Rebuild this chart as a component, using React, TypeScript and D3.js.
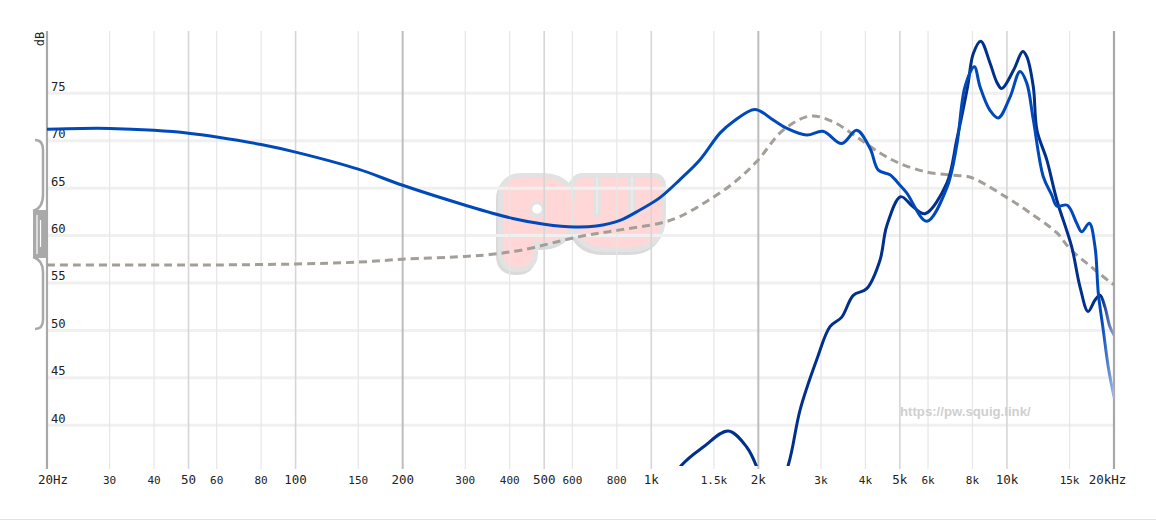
import React from 'react';
import * as d3 from 'd3';

// ---------- data ----------
const FREQ_TICKS = [20, 30, 40, 50, 60, 80, 100, 150, 200, 300, 400, 500, 600, 800, 1000, 1500, 2000, 3000, 4000, 5000, 6000, 8000, 10000, 15000, 20000];
const FREQ_LABELS = ['20Hz', '30', '40', '50', '60', '80', '100', '150', '200', '300', '400', '500', '600', '800', '1k', '1.5k', '2k', '3k', '4k', '5k', '6k', '8k', '10k', '15k', '20kHz'];
const BIG_TICKS = [20, 50, 100, 200, 500, 1000, 2000, 5000, 10000, 20000];
const DARK_TICKS = [200, 2000];
const DB_TICKS = [40, 45, 50, 55, 60, 65, 70, 75];

const MID_FREQ = [20, 25, 30, 40, 50, 60, 80, 100, 150, 200, 300, 408, 500, 610, 700, 817, 929, 1058, 1204, 1371, 1560, 1698, 1957, 2199, 2408, 2736, 3040, 3432, 3780, 4121, 4349, 4691, 5004, 5226, 5948, 6772, 7226, 7622, 8097, 8400, 8962, 9458, 10202, 10882, 11364, 11862, 12656, 13358, 13824, 14782, 15709, 16226, 17046, 17688, 18070, 18666, 19268, 20000];
const MID_DB = [71.2, 71.3, 71.3, 71.1, 70.8, 70.4, 69.6, 68.8, 67.0, 65.3, 63.2, 61.8, 61.2, 60.9, 61.0, 61.6, 62.7, 64.0, 65.9, 68.0, 70.8, 72.0, 73.3, 72.2, 71.3, 70.6, 71.0, 69.7, 71.1, 69.2, 66.9, 66.4, 65.3, 64.5, 61.5, 65.0, 69.5, 75.7, 77.8, 75.7, 73.2, 72.4, 74.6, 77.3, 76.1, 72.2, 66.2, 64.3, 63.1, 63.2, 61.3, 60.4, 61.3, 58.8, 53.9, 50.0, 46.2, 43.0];

const NAVY_FREQ = [1000, 1218, 1400, 1646, 1854, 1979, 2157, 2428, 2620, 2918, 3181, 3432, 3698, 4034, 4396, 4592, 5026, 5456, 5882, 6772, 7226, 7752, 8044, 8439, 8962, 9358, 9668, 10424, 11076, 11364, 11862, 12147, 12940, 13824, 15210, 16048, 16906, 17688, 18268, 18856, 19472, 20000];
const NAVY_DB = [31.0, 35.8, 37.7, 39.4, 37.7, 35.6, 31.0, 35.8, 41.6, 46.9, 50.4, 51.4, 53.7, 54.4, 57.4, 61.0, 64.1, 63.0, 62.3, 65.5, 70.1, 75.7, 79.2, 80.5, 78.2, 76.2, 75.5, 77.4, 79.4, 78.9, 75.7, 71.1, 68.0, 63.7, 58.8, 54.6, 52.0, 53.2, 53.7, 52.5, 50.4, 49.5];

const TARGET_FREQ = [20, 40, 60, 100, 150, 200, 300, 352, 436, 630, 817, 1058, 1204, 1431, 1698, 1979, 2346, 2795, 3244, 3780, 4396, 5004, 5948, 6918, 7800, 8300, 10004, 11608, 13804, 15044, 17126, 19490, 20000];
const TARGET_DB = [56.9, 56.9, 56.9, 57.0, 57.2, 57.5, 57.8, 58.0, 58.5, 59.9, 60.6, 61.3, 62.0, 63.6, 65.5, 67.8, 71.1, 72.6, 72.0, 70.4, 68.7, 67.6, 66.7, 66.4, 66.2, 65.8, 64.0, 62.4, 60.3, 58.6, 56.8, 55.1, 54.8];

// ---------- layout ----------
const W = 1156;
const H = 529;
const X0 = 47;
const X1 = 1114;
const Y0 = 31;
const Y1 = 466;

const x = d3.scaleLog().domain([20, 20000]).range([X0, X1]);
const y = d3.scaleLinear().domain([35.7, 81.57]).range([Y1, Y0]);

const zip = (f: number[], v: number[]) => f.map((d, i) => [d, v[i]] as [number, number]);
const lineGen = d3
  .line<[number, number]>()
  .x((d) => x(d[0]))
  .y((d) => y(d[1]))
  .curve(d3.curveCatmullRom.alpha(0.5));

const MID_COLOR = '#0049ba';
const NAVY_COLOR = '#00308c';
const MONO = '"DejaVu Sans Mono", monospace';

const P_PATH =
  'M503,197 Q503,178 522,178 L544,178 A32,32 0 0 1 544,242 L533,242 L533,253 Q533,267 518,267 Q503,267 503,253 Z';
const W_PATH =
  'M575,186 Q575,178 583,178 L653,178 Q661,178 661,186 L661,216 Q661,247 630,247 L606,247 Q575,247 575,216 Z';

function Watermark() {
  const grey = '#e2e2e2';
  const shadow = '#dadada';
  const pink = '#ffd7d7';
  const shapes = (fill: string, stroke: string, sw: number, dx = 0, dy = 0) => (
    <g transform={`translate(${dx},${dy})`} fill={fill} stroke={stroke} strokeWidth={sw} strokeLinejoin="round">
      <path d={P_PATH} />
      <path d={W_PATH} />
    </g>
  );
  return (
    <g>
      {shapes(shadow, shadow, 10, -2, 3)}
      {shapes(grey, grey, 10)}
      {shapes(pink, 'none', 0)}
      <circle cx={537} cy={209} r={6.5} fill="#fff" stroke={grey} strokeWidth={3.5} />
      <rect x={595} y={175} width={4} height={41} rx={2} fill="#fff" stroke={grey} strokeWidth={3.5} />
      <rect x={630} y={175} width={4} height={41} rx={2} fill="#fff" stroke={grey} strokeWidth={3.5} />
    </g>
  );
}

function Handle() {
  const c = '#a9a9a9';
  return (
    <g>
      <path d="M35,140 Q43,140 43,150 L43,195 Q43,208 33,211" fill="none" stroke={c} strokeWidth={2.5} />
      <path d="M33,257 Q43,260 43,272 L43,320 Q43,329 35,329" fill="none" stroke={c} strokeWidth={2.5} />
      <rect x={33} y={210} width={14} height={48} fill={c} />
      <line x1={37} x2={37} y1={215} y2={254} stroke="#fff" strokeWidth={1.2} />
      <line x1={40.5} x2={40.5} y1={220} y2={247} stroke="#fff" strokeWidth={1.2} />
    </g>
  );
}

export default function App() {
  const mid = zip(MID_FREQ, MID_DB);
  const navy = zip(NAVY_FREQ, NAVY_DB);
  const target = zip(TARGET_FREQ, TARGET_DB);
  const fadeX1 = x(18500);
  const fadeX2 = x(20000);

  return (
    <svg
      width={W}
      height={H}
      viewBox={`0 0 ${W} ${H}`}
      style={{ position: 'absolute', left: 0, top: 0, background: '#fff' }}
    >
      <defs>
        <clipPath id="plotClip">
          <rect x={X0} y={Y0} width={X1 - X0} height={Y1 - Y0} />
        </clipPath>
        <linearGradient id="fadeMid" gradientUnits="userSpaceOnUse" x1={fadeX1} x2={fadeX2} y1={0} y2={0}>
          <stop offset="0" stopColor={MID_COLOR} />
          <stop offset="1" stopColor="#a9bfe6" />
        </linearGradient>
        <linearGradient id="fadeNavy" gradientUnits="userSpaceOnUse" x1={fadeX1} x2={fadeX2} y1={0} y2={0}>
          <stop offset="0" stopColor={NAVY_COLOR} />
          <stop offset="1" stopColor="#98a6cc" />
        </linearGradient>
      </defs>
      <rect x={0} y={0} width={W} height={H} fill="#fff" />

      <Watermark />

      {/* horizontal grid */}
      {DB_TICKS.map((v) => (
        <line key={'h' + v} x1={X0} x2={X1} y1={y(v)} y2={y(v)} stroke="#f0f0f0" strokeWidth={3} />
      ))}

      {/* vertical grid */}
      {FREQ_TICKS.map((f) => {
        const edge = f === 20 || f === 20000;
        const dark = DARK_TICKS.includes(f);
        const big = BIG_TICKS.includes(f);
        const stroke = edge ? '#a8a8a8' : dark ? '#bdbdbd' : big ? '#d6d6d6' : '#e6e6e6';
        const sw = edge ? 2.2 : dark ? 2 : big ? 1.6 : 1.2;
        return <line key={'v' + f} x1={x(f)} x2={x(f)} y1={Y0} y2={Y1 + 3} stroke={stroke} strokeWidth={sw} />;
      })}

      {/* y labels */}
      {DB_TICKS.map((v) => (
        <text key={'yl' + v} x={X0 + 4} y={y(v) - 2.5} fontFamily={MONO} fontSize={12.2} fill="#222">
          {v}
        </text>
      ))}
      <text
        transform={`translate(${X0 - 3},${Y0 + 8}) rotate(-90)`}
        textAnchor="middle"
        fontFamily={MONO}
        fontSize={12}
        fill="#222"
      >
        dB
      </text>

      {/* x labels */}
      {FREQ_TICKS.map((f, i) => {
        const big = BIG_TICKS.includes(f);
        let anchor: 'start' | 'middle' | 'end' = 'middle';
        let px = x(f);
        if (i === 0) {
          anchor = 'start';
          px = x(f) - 9;
        } else if (i === FREQ_TICKS.length - 1) {
          anchor = 'end';
          px = x(f) + 12.3;
        }
        return (
          <text
            key={'xl' + f}
            x={px}
            y={Y1 + 18}
            textAnchor={anchor}
            fontFamily={MONO}
            fontSize={big ? 12.5 : 11}
            fill="#222"
          >
            {FREQ_LABELS[i]}
          </text>
        );
      })}

      <text
        x={900}
        y={416}
        fontFamily='"Liberation Sans", Arial, sans-serif'
        fontWeight="bold"
        fontSize={13.2}
        fill="#cfcfcf"
      >
        https://pw.squig.link/
      </text>

      {/* curves */}
      <g clipPath="url(#plotClip)" fill="none" strokeLinejoin="round" strokeLinecap="round">
        <path d={lineGen(target) || ''} stroke="#a39f98" strokeWidth={3} strokeDasharray="8 5" strokeLinecap="butt" />
        <path d={lineGen(navy) || ''} stroke="url(#fadeNavy)" strokeWidth={3} />
        <path d={lineGen(mid) || ''} stroke="url(#fadeMid)" strokeWidth={3} />
      </g>

      <Handle />

      <line x1={0} x2={W} y1={519.5} y2={519.5} stroke="#e2e2e2" strokeWidth={1} />
    </svg>
  );
}
